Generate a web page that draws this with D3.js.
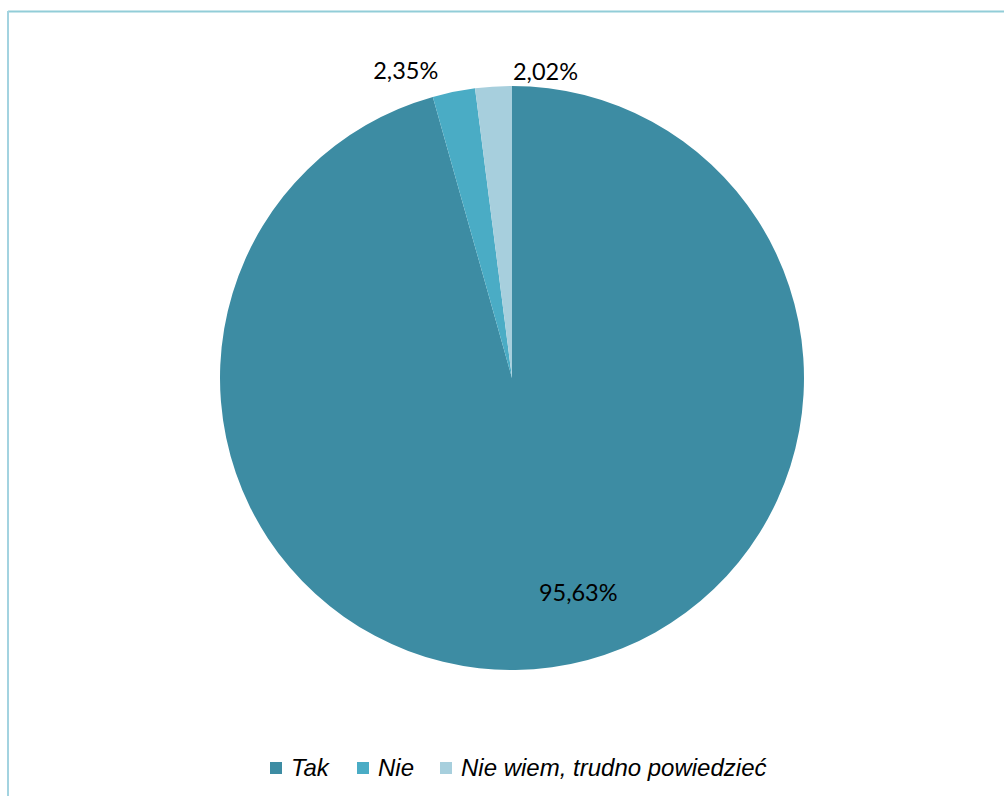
<!DOCTYPE html>
<html>
<head>
<meta charset="utf-8">
<script src="https://cdn.jsdelivr.net/npm/d3@7"></script>
<style>
  html, body { margin: 0; padding: 0; background: #fff; }
  svg { display: block; }
</style>
</head>
<body>
<svg id="chart" width="1004" height="796"></svg>
<script>
const categories = ["Tak", "Nie", "Nie wiem, trudno powiedzieć"];
const values = [95.63, 2.35, 2.02];
const labels = ["95,63%", "2,35%", "2,02%"];
const colors = ["#3d8ca3", "#4aacc5", "#a7cfdd"];

const svg = d3.select("#chart");
const W = 1004, H = 796;
const cx = 512, cy = 378, r = 292;

// frame lines
svg.append("line").attr("x1", 8).attr("x2", W).attr("y1", 11.5).attr("y2", 11.5)
  .attr("stroke", "#92cdd8").attr("stroke-width", 2);
svg.append("line").attr("x1", 8).attr("x2", 8).attr("y1", 11).attr("y2", H)
  .attr("stroke", "#a3d3e0").attr("stroke-width", 2);

const data = categories.map((c, i) => ({ cat: c, value: values[i], label: labels[i], color: colors[i] }));

const pie = d3.pie().value(d => d.value).sort(null);
const arcs = pie(data);
const arc = d3.arc().innerRadius(0).outerRadius(r);

const g = svg.append("g").attr("transform", `translate(${cx},${cy})`);
g.selectAll("path").data(arcs).enter().append("path")
  .attr("d", arc)
  .attr("fill", d => d.data.color);

// label placement: inside for large slice, outside for small ones
const outer = d3.arc().innerRadius(r).outerRadius(r);
const offsets = [[4, 0], [-48, -22], [52, -16]];
g.selectAll("text.lbl").data(arcs).enter().append("text")
  .attr("class", "lbl")
  .attr("transform", (d, i) => {
    let p;
    if (i === 0) {
      const a = (163.8) * Math.PI / 180;
      p = [Math.sin(a) * r * 0.764, -Math.cos(a) * r * 0.764];
    } else {
      p = outer.centroid(d);
    }
    return `translate(${p[0] + offsets[i][0]},${p[1] + offsets[i][1]})`;
  })
  .attr("text-anchor", "middle")
  .attr("dominant-baseline", "central")
  .attr("font-family", "Lato, 'Open Sans', sans-serif")
  .attr("font-size", 23.5)
  .attr("fill", "#000")
  .text(d => d.data.label);

// legend
const legendX = [270, 357, 440];
const lg = svg.append("g");
data.forEach((d, i) => {
  lg.append("rect").attr("x", legendX[i]).attr("y", 762).attr("width", 12).attr("height", 12)
    .attr("fill", d.color);
  lg.append("text").attr("x", legendX[i] + 21).attr("y", 776)
    .attr("font-family", "'Liberation Sans', Arial, sans-serif")
    .attr("font-style", "italic")
    .attr("font-size", 24)
    .attr("fill", "#000")
    .text(d.cat);
});
</script>
</body>
</html>
